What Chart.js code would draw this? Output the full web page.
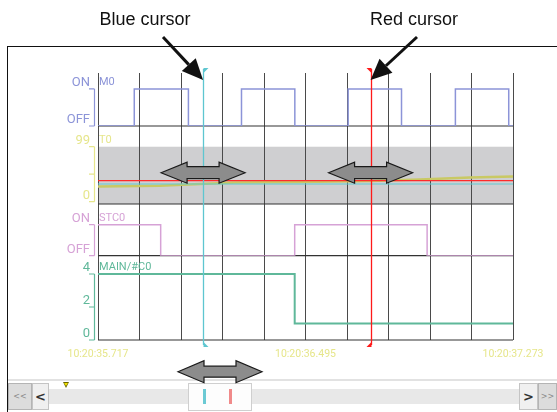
<!DOCTYPE html>
<html>
<head>
<meta charset="utf-8">
<script src="https://cdn.jsdelivr.net/npm/chart.js@4.4.1/dist/chart.umd.min.js"></script>
<style>
  html, body { margin: 0; padding: 0; background: #fff; overflow: hidden; }
  body { width: 557px; height: 412px; position: relative; font-family: "Liberation Sans", Arial, sans-serif; }
  #wrap { position: absolute; left: 0; top: 0; width: 557px; height: 412px; z-index: 2; }
  .note { position: absolute; top: 9px; font-size: 18px; color: #111; white-space: nowrap; transform: translateX(-50%); z-index: 3; }
  .frame { position: absolute; left: 7px; top: 46px; width: 560px; height: 380px; border-left: 1.5px solid #111; border-top: 1.5px solid #111; z-index: 3; }
  .sep { position: absolute; left: 8px; top: 379px; width: 549px; height: 2px; background: #e2e2e2; z-index: 1; }
  .track { position: absolute; left: 49px; top: 389px; width: 470px; height: 15px; background: #e8e8e8; z-index: 1; }
  .btn { position: absolute; top: 383px; height: 27px; box-sizing: border-box; border: 1px solid #c4c4c4; background: #f0f0f0;
         display: flex; align-items: center; justify-content: center; font-family: "DejaVu Sans", sans-serif; z-index: 1; }
  .btn.dark { background: #dcdcdc; border-color: #b4b4b4; color: #8a8a8a; font-size: 8px; }
  .btn.light { color: #333; font-size: 13px; font-weight: bold; }
  .thumb { position: absolute; left: 188px; top: 383px; width: 64px; height: 28px; box-sizing: border-box; background: #fdfdfd; border: 1px solid #cfcfcf; z-index: 1; }
  .mark { position: absolute; top: 5px; width: 3px; height: 15px; }
  .marker { position: absolute; left: 63px; top: 382px; width: 0; height: 0; border-left: 3.5px solid transparent; border-right: 3.5px solid transparent; border-top: 6px solid #6a6400; z-index: 1; }
  .marker i { position: absolute; left: -2px; top: -5.5px; border-left: 2px solid transparent; border-right: 2px solid transparent; border-top: 3.5px solid #f2e200; }
</style>
</head>
<body>
<div class="sep"></div>
<div class="track"></div>
<div class="marker"><i></i></div>
<div class="btn dark" style="left:8px;width:24px;">&lt;&lt;</div>
<div class="btn light" style="left:32px;width:17px;">&lt;</div>
<div class="thumb">
  <div class="mark" style="left:14px;background:#6ccad4;"></div>
  <div class="mark" style="left:40px;background:#f08a8a;"></div>
</div>
<div class="btn light" style="left:519px;width:19px;">&gt;</div>
<div class="btn dark" style="left:538px;width:19px;">&gt;&gt;</div>

<div id="wrap"><canvas id="chart"></canvas></div>
<div class="frame"></div>
<div class="note" style="left:145px;">Blue cursor</div>
<div class="note" style="left:414px;">Red cursor</div>

<script>
// time axis: seconds from the first label, 10 grid divisions
const timeLabels = ["10:20:35.717", "10:20:36.495", "10:20:37.273"];
const spanSec = 1.556;
const gridStep = 0.1556;

// M0 (bit)
const m0Times = [0, 0.136, 0.339, 0.538, 0.738, 0.938, 1.138, 1.340, 1.540, 1.556];
const m0Values = [0, 1, 0, 1, 0, 1, 0, 1, 0, 0];

// T0 (timer current value)
const t0Times = [0, 0.232, 0.382, 0.513, 0.757, 1.020, 1.207, 1.395, 1.556];
const t0Values = [27.4, 28.8, 31.9, 34.6, 35.5, 37.3, 40.0, 43.6, 45.4];

// STC0 (bit)
const stcTimes = [0, 0.235, 0.7375, 1.234, 1.556];
const stcValues = [1, 0, 1, 0, 0];

// MAIN/#C0 (word)
const mainTimes = [0, 0.7375, 1.556];
const mainValues = [4, 1, 1];

// cursors
const blueCursor = 0.394;
const redCursor = 1.022;
const blueCursorT0 = 31.9;
const redCursorT0 = 37.8;

const bandNames = ["M0", "T0", "STC0", "MAIN/#C0"];
const m0TickValues = [1, 0], m0TickLabels = ["ON", "OFF"];
const t0TickValues = [99, 49.5, 0], t0TickLabels = ["99", "", "0"];
const stcTickValues = [1, 0], stcTickLabels = ["ON", "OFF"];
const mainTickValues = [4, 2, 0], mainTickLabels = ["4", "2", "0"];

const pts = (xs, ys) => xs.map((x, i) => ({ x: x, y: ys[i] }));
const flat = (v) => [{ x: 0, y: v }, { x: spanSec, y: v }];

function doubleArrow(ctx, cx, cy, half, headLen, headHalf, shaftHalf) {
  ctx.beginPath();
  ctx.moveTo(cx - half, cy);
  ctx.lineTo(cx - half + headLen, cy - headHalf);
  ctx.lineTo(cx - half + headLen, cy - shaftHalf);
  ctx.lineTo(cx + half - headLen, cy - shaftHalf);
  ctx.lineTo(cx + half - headLen, cy - headHalf);
  ctx.lineTo(cx + half, cy);
  ctx.lineTo(cx + half - headLen, cy + headHalf);
  ctx.lineTo(cx + half - headLen, cy + shaftHalf);
  ctx.lineTo(cx - half + headLen, cy + shaftHalf);
  ctx.lineTo(cx - half + headLen, cy + headHalf);
  ctx.closePath();
  ctx.fillStyle = "#8c8c8c";
  ctx.fill();
  ctx.strokeStyle = "#1a1a1a";
  ctx.lineWidth = 1.2;
  ctx.stroke();
}

function callout(ctx, x1, y1, x2, y2) {
  const a = Math.atan2(y2 - y1, x2 - x1);
  const len = 21, hw = 9.5;
  const bx = x2 - len * Math.cos(a), by = y2 - len * Math.sin(a);
  ctx.strokeStyle = "#111";
  ctx.fillStyle = "#111";
  ctx.lineWidth = 3;
  ctx.beginPath();
  ctx.moveTo(x1, y1);
  ctx.lineTo(bx, by);
  ctx.stroke();
  ctx.beginPath();
  ctx.moveTo(x2, y2);
  ctx.lineTo(bx - hw * Math.sin(a), by + hw * Math.cos(a));
  ctx.lineTo(bx + hw * Math.sin(a), by - hw * Math.cos(a));
  ctx.closePath();
  ctx.fill();
}

function drawBand(ctx, sc, name, vals, labels, color, left) {
  const ys = vals.map(v => sc.getPixelForValue(v));
  const bx = left - 3.5;
  ctx.strokeStyle = color;
  ctx.fillStyle = color;
  ctx.lineWidth = 1.2;
  ctx.beginPath();
  ctx.moveTo(bx, Math.min(...ys));
  ctx.lineTo(bx, Math.max(...ys));
  ys.forEach(y => { ctx.moveTo(bx - 5.5, y); ctx.lineTo(bx, y); });
  ctx.stroke();
  ctx.font = "13px Roboto";
  ctx.textAlign = "right";
  ctx.textBaseline = "alphabetic";
  labels.forEach((t, i) => { if (t) ctx.fillText(t, bx - 4.5, ys[i] - 3); });
  ctx.font = "11px Roboto";
  ctx.textAlign = "left";
  ctx.fillText(name, left + 1, ys[0] - 4);
}

const timingPlugin = {
  id: "timing",
  beforeDraw(chart) {
    const { ctx, chartArea: a, scales } = chart;
    const t0 = scales.yT0;
    const top = t0.getPixelForValue(t0TickValues[0]);
    ctx.save();
    ctx.fillStyle = "#cfcfd1";
    ctx.fillRect(a.left, top, a.right - a.left, t0.bottom - top);
    ctx.restore();
  },
  beforeDatasetsDraw(chart) {
    const { ctx, chartArea: a, scales } = chart;
    ctx.save();
    ctx.strokeStyle = "#333";
    ctx.lineWidth = 1.2;
    ["yM0", "yT0", "ySTC", "yMAIN"].forEach(id => {
      const y = scales[id].bottom;
      ctx.beginPath();
      ctx.moveTo(a.left, y);
      ctx.lineTo(a.right, y);
      ctx.stroke();
    });
    ctx.restore();
  },
  afterDraw(chart) {
    const { ctx, chartArea: a, scales } = chart;
    const x = scales.x;
    ctx.save();

    // cursors
    [[blueCursor, "#5ec6d0", 1], [redCursor, "#ff1a1a", -1]].forEach(([t, col, dir]) => {
      const px = Math.round(x.getPixelForValue(t)) + 0.5;
      ctx.strokeStyle = col;
      ctx.fillStyle = col;
      ctx.lineWidth = 1.3;
      ctx.beginPath();
      ctx.moveTo(px, a.top - 4);
      ctx.lineTo(px, a.bottom + 5);
      ctx.stroke();
      ctx.beginPath();
      ctx.moveTo(px, a.top - 5);
      ctx.lineTo(px + dir * 5, a.top - 5);
      ctx.lineTo(px, a.top);
      ctx.closePath();
      ctx.fill();
      ctx.beginPath();
      ctx.moveTo(px, a.bottom + 2);
      ctx.lineTo(px, a.bottom + 7);
      ctx.lineTo(px + dir * 5, a.bottom + 7);
      ctx.closePath();
      ctx.fill();
    });

    // band labels and brackets
    drawBand(ctx, scales.yM0, bandNames[0], m0TickValues, m0TickLabels, "#8c94d8", a.left);
    drawBand(ctx, scales.yT0, bandNames[1], t0TickValues, t0TickLabels, "#e6e68c", a.left);
    drawBand(ctx, scales.ySTC, bandNames[2], stcTickValues, stcTickLabels, "#d6a2d6", a.left);
    drawBand(ctx, scales.yMAIN, bandNames[3], mainTickValues, mainTickLabels, "#5fb89a", a.left);

    // annotation arrows
    const bx = x.getPixelForValue(blueCursor);
    const rx = x.getPixelForValue(redCursor);
    doubleArrow(ctx, bx, 172.7, 42, 26, 10.5, 6);
    doubleArrow(ctx, rx, 172.7, 42, 26, 10.5, 6);
    doubleArrow(ctx, 220, 371.7, 42, 26, 11, 5.5);
    callout(ctx, 163, 37, bx, 80);
    callout(ctx, 417, 37, rx, 80);
    ctx.restore();
  }
};

new Chart(document.getElementById("chart"), {
  type: "line",
  data: {
    datasets: [
      { data: flat(redCursorT0), yAxisID: "yT0", borderColor: "#ff2a2a", borderWidth: 1.2 },
      { data: flat(blueCursorT0), yAxisID: "yT0", borderColor: "#62c9d2", borderWidth: 1.2 },
      { data: pts(t0Times, t0Values), yAxisID: "yT0", borderColor: "#c9c964", borderWidth: 2.5 },
      { data: pts(m0Times, m0Values), yAxisID: "yM0", borderColor: "#8c94d8", borderWidth: 1.5, stepped: true },
      { data: pts(stcTimes, stcValues), yAxisID: "ySTC", borderColor: "#d6a2d6", borderWidth: 1.5, stepped: true },
      { data: pts(mainTimes, mainValues), yAxisID: "yMAIN", borderColor: "#5fb89a", borderWidth: 2, stepped: true }
    ]
  },
  options: {
    responsive: true,
    maintainAspectRatio: false,
    animation: false,
    events: [],
    layout: { padding: { left: 98, right: 44, top: 73, bottom: 52 } },
    elements: { point: { radius: 0 }, line: { tension: 0, fill: false } },
    plugins: { legend: { display: false }, tooltip: { enabled: false } },
    scales: {
      x: {
        type: "linear",
        min: 0,
        max: spanSec,
        afterBuildTicks: ax => {
          ax.ticks = [];
          for (let i = 0; i <= 10; i++) ax.ticks.push({ value: +(i * gridStep).toFixed(4) });
        },
        afterFit: ax => { ax.height = 20; },
        grid: { color: "#4a4a4a", lineWidth: 1, drawTicks: false },
        border: { display: false },
        ticks: {
          autoSkip: false,
          maxRotation: 0,
          minRotation: 0,
          padding: 8,
          color: "#e6e68a",
          font: { family: "Roboto", size: 10.5 },
          callback: (v, i) => (i % 5 === 0 ? timeLabels[i / 5] : "")
        }
      },
      yM0: { type: "linear", display: false, position: "left", stack: "bands", stackWeight: 53, weight: 4, min: 0, max: 1.43 },
      yT0: { type: "linear", display: false, position: "left", stack: "bands", stackWeight: 78, weight: 3, min: -4.1, max: 136.3 },
      ySTC: { type: "linear", display: false, position: "left", stack: "bands", stackWeight: 51.7, weight: 2, min: 0, max: 1.668 },
      yMAIN: { type: "linear", display: false, position: "left", stack: "bands", stackWeight: 84.3, weight: 1, min: 0, max: 5.11 }
    }
  },
  plugins: [timingPlugin]
});
</script>
</body>
</html>
